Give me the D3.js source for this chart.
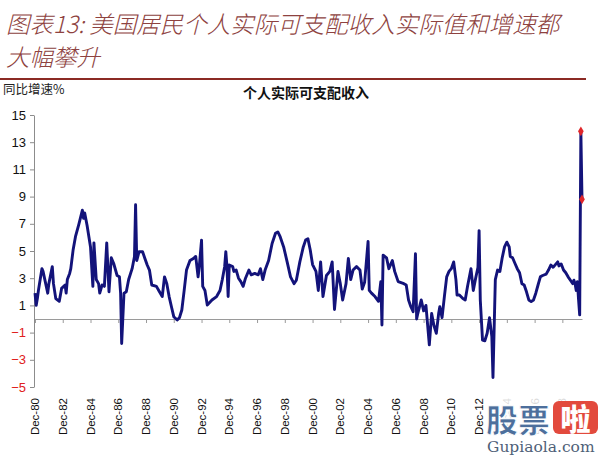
<!DOCTYPE html>
<html><head><meta charset="utf-8">
<script src="https://cdn.jsdelivr.net/npm/d3@7"></script>
<style>
html,body{margin:0;padding:0;background:#fff;}
svg{display:block;}
</style></head>
<body>
<svg id="chart" width="600" height="455"></svg>
<script>
// ---- data ----
const titleLines = ["图表13: 美国居民个人实际可支配收入实际值和增速都", "大幅攀升"];
const chartTitle = "个人实际可支配收入";
const yAxisTitle = "同比增速%";
const yTicks = [-5, -3, -1, 1, 3, 5, 7, 9, 11, 13, 15];
const months = [
"1980-12","1981-01","1981-02","1981-03","1981-06","1981-07","1981-11","1981-12","1982-03","1982-04",
"1982-06","1982-09","1982-11","1983-02","1983-03","1983-04","1983-06","1983-07","1983-09","1983-11",
"1984-02","1984-05","1984-06","1984-07","1984-09","1984-12","1985-02","1985-03","1985-05","1985-07",
"1985-08","1985-10","1985-12","1986-02","1986-04","1986-06","1986-08","1986-11","1987-01","1987-02",
"1987-03","1987-05","1987-07","1987-09","1987-12","1988-02","1988-03","1988-04","1988-06","1988-09",
"1988-11","1989-01","1989-03","1989-05","1989-09","1989-11","1990-02","1990-04","1990-06","1990-08",
"1990-10","1990-12","1991-03","1991-05","1991-07","1991-09","1991-11","1992-02","1992-05","1992-07",
"1992-09","1992-10","1992-12","1993-01","1993-03","1993-05","1993-09","1994-01","1994-04","1994-06",
"1994-08","1994-09","1994-10","1994-11","1994-12","1995-03","1995-04","1995-06","1995-08","1995-10",
"1995-12","1996-02","1996-05","1996-07","1996-10","1997-01","1997-03","1997-05","1997-07","1997-10",
"1998-01","1998-04","1998-06","1998-08","1998-11","1999-02","1999-05","1999-08","1999-10","2000-01",
"2000-04","2000-06","2000-08","2000-10","2000-12","2001-03","2001-05","2001-07","2001-09","2001-12",
"2002-03","2002-05","2002-07","2002-10","2002-12","2003-02","2003-05","2003-07","2003-09","2003-11",
"2004-02","2004-05","2004-07","2004-09","2004-12","2005-01","2005-03","2005-06","2005-09","2005-11",
"2005-12","2006-01","2006-04","2006-06","2006-09","2006-11","2007-02","2007-07","2007-09","2007-11",
"2008-01","2008-03","2008-05","2008-06","2008-07","2008-10","2008-12","2009-02","2009-05","2009-07",
"2009-09","2009-11","2010-01","2010-02","2010-04","2010-06","2010-08","2010-10","2010-12","2011-02",
"2011-04","2011-05","2011-07","2011-10","2011-12","2012-02","2012-05","2012-07","2012-09","2012-11",
"2012-12","2013-01","2013-03","2013-05","2013-07","2013-09","2013-11","2013-12","2014-02","2014-04",
"2014-06","2014-08","2014-10","2014-12","2015-02","2015-03","2015-05","2015-07","2015-09","2015-11",
"2016-01","2016-03","2016-05","2016-07","2016-09","2016-11","2017-01","2017-03","2017-05","2017-07",
"2017-10","2017-12","2018-02","2018-04","2018-06","2018-08","2018-09","2018-11","2019-01","2019-03",
"2019-05","2019-07","2019-09","2019-10","2019-11","2019-12","2020-01","2020-02","2020-03","2020-04",
"2020-05"];
const growth = [
1.9,1.0,1.5,2.1,3.7,3.5,1.9,2.6,3.85,2.6,
1.5,1.3,2.25,2.5,1.9,2.9,3.35,3.7,5.1,6.05,
7.0,8.0,7.4,7.8,6.9,5.3,2.4,5.6,2.9,2.6,
1.9,2.5,2.4,5.6,2.0,4.5,4.1,3.2,3.1,1.9,
-1.8,1.9,2.0,2.9,3.7,4.6,8.4,4.3,4.95,4.95,
4.45,3.97,3.6,2.5,2.4,2.1,1.65,3.1,2.6,1.65,
0.9,0.17,-0.07,0.1,0.66,2.1,3.6,4.3,4.45,4.6,
3.1,3.8,5.8,2.4,2.1,1.03,1.4,1.65,2.1,2.9,
3.85,4.95,3.85,1.65,3.97,3.85,3.5,3.6,3.0,2.75,
2.4,3.0,3.6,3.25,3.35,3.25,3.7,2.9,3.6,4.3,
5.55,6.3,6.4,6.05,5.3,4.2,3.1,2.6,2.85,4.2,
5.3,5.8,5.9,5.07,4.0,3.5,2.1,4.2,1.65,3.2,
3.5,4.2,0.7,3.5,2.6,1.4,2.6,4.45,2.9,3.6,
3.85,3.6,2.2,2.7,5.7,2.1,1.9,1.65,1.3,2.75,
-0.44,4.7,4.5,3.7,4.3,3.5,2.75,2.6,2.5,1.4,
0.9,0.54,4.8,0.0,0.4,1.4,0.6,1.0,-1.9,0.4,
-0.5,-1.05,0.4,0.9,0.1,1.65,3.1,3.5,3.7,4.2,
2.9,1.76,1.76,1.5,1.4,2.4,3.7,2.1,3.0,3.8,
6.5,1.4,-1.55,-1.6,-1.05,0.1,-1.3,-4.3,2.9,3.6,
3.5,4.5,5.3,5.65,5.3,4.6,4.5,4.1,3.7,3.4,
2.6,2.5,2.0,1.4,1.28,1.4,1.9,2.5,3.1,3.2,
3.3,3.6,3.97,3.8,4.0,4.2,3.9,4.05,3.6,3.4,
3.1,2.85,2.6,2.85,2.6,2.1,2.75,1.4,0.3,13.8,
8.8];
const markedMonths = ["2020-04", "2020-05"];
const tickYears = [1980,1982,1984,1986,1988,1990,1992,1994,1996,1998,2000,2002,2004,2006,2008,2010,2012,2014,2016,2018];

// ---- drawing ----
const parse = d3.timeParse("%Y-%m");
const data = months.map((m, i) => ({date: parse(m), value: growth[i], key: m}));
const svg = d3.select("#chart");
const cjk = "'Noto Sans CJK SC', 'Noto Sans', sans-serif";
const latin = "'Liberation Sans', Arial, sans-serif";

svg.append("rect").attr("width", 600).attr("height", 455).attr("fill", "#fff");

// title
svg.selectAll("text.title").data(titleLines).join("text")
  .attr("class", "title")
  .attr("x", 6).attr("y", (d, i) => 33 + i * 33)
  .attr("font-family", cjk).attr("font-size", 23.5).attr("font-style", "italic").attr("font-weight", 300)
  .attr("fill", "#8e4240")
  .text(d => d);
svg.append("line").attr("x1", 0).attr("x2", 586).attr("y1", 79).attr("y2", 79)
  .attr("stroke", "#8b2a24").attr("stroke-width", 2);

svg.append("text").attr("x", 3).attr("y", 94)
  .attr("font-family", cjk).attr("font-size", 12.5).attr("fill", "#222").text(yAxisTitle);
svg.append("text").attr("x", 306).attr("y", 98).attr("text-anchor", "middle")
  .attr("font-family", cjk).attr("font-size", 14).attr("font-weight", 600).attr("fill", "#111").text(chartTitle);

// scales
const x = d3.scaleTime().domain([parse("1980-12"), parse("2020-05")]).range([35, 582]);
const y = d3.scaleLinear().domain([-5, 15]).range([387, 115]);

// y axis
const yAxis = svg.append("g").attr("transform", "translate(34,0)")
  .call(d3.axisLeft(y).tickValues(yTicks).tickSize(4).tickSizeOuter(0).tickPadding(4));
yAxis.select(".domain").attr("stroke", "#8c8c8c");
yAxis.selectAll(".tick line").attr("stroke", "#8c8c8c");
yAxis.selectAll(".tick text")
  .attr("font-family", latin).attr("font-size", 13)
  .attr("fill", d => d < 0 ? "#e02020" : "#111");

// x axis at zero
const tickDates = tickYears.map(yr => parse(yr + "-12"));
const xAxis = svg.append("g").attr("transform", `translate(0,${y(0)})`)
  .call(d3.axisBottom(x).tickValues(tickDates).tickSize(4).tickSizeOuter(0).tickFormat(""));
xAxis.select(".domain").attr("stroke", "#9a9a9a");
xAxis.selectAll(".tick line").attr("stroke", "#9a9a9a");

// x labels at bottom, rotated
const fmt = d3.timeFormat("%b-%y");
svg.append("g").selectAll("text").data(tickDates).join("text")
  .attr("transform", d => `translate(${x(d) + 4},398) rotate(-90)`)
  .attr("text-anchor", "end")
  .attr("font-family", latin).attr("font-size", 11.5).attr("fill", "#111")
  .text(d => fmt(d));

// line
const line = d3.line().x(d => x(d.date)).y(d => y(d.value));
svg.append("path").datum(data)
  .attr("fill", "none").attr("stroke", "#13137a").attr("stroke-width", 2.9)
  .attr("stroke-linejoin", "round").attr("d", line);

// red markers
svg.append("g").selectAll("path").data(data.filter(d => markedMonths.includes(d.key))).join("path")
  .attr("transform", d => `translate(${x(d.date)},${y(d.value)})`)
  .attr("d", d3.symbol().type(d3.symbolDiamond).size(28))
  .attr("fill", "#e0262a");

// watermark
const wm = svg.append("g");
wm.append("rect").attr("x", 484).attr("y", 396).attr("width", 116).attr("height", 59).attr("fill", "#fff").attr("opacity", 0.85);
wm.append("text").attr("x", 486).attr("y", 432)
  .attr("font-family", cjk).attr("font-size", 32).attr("font-weight", 900)
  .attr("fill", "#4d6f9c").attr("stroke", "#fff").attr("stroke-width", 1).text("股票");
wm.append("rect").attr("x", 553).attr("y", 401).attr("width", 45).attr("height", 33).attr("rx", 6).attr("fill", "#e24a3d");
wm.append("text").attr("x", 575.5).attr("y", 430).attr("text-anchor", "middle")
  .attr("font-family", cjk).attr("font-size", 30).attr("font-weight", 900).attr("fill", "#fff").text("啦");
wm.append("text").attr("x", 487).attr("y", 452)
  .attr("font-family", "'DejaVu Serif', 'Liberation Serif', serif").attr("font-size", 15.5)
  .attr("fill", "#4f5f78").text("Gupiaola.com");
</script>
</body></html>
